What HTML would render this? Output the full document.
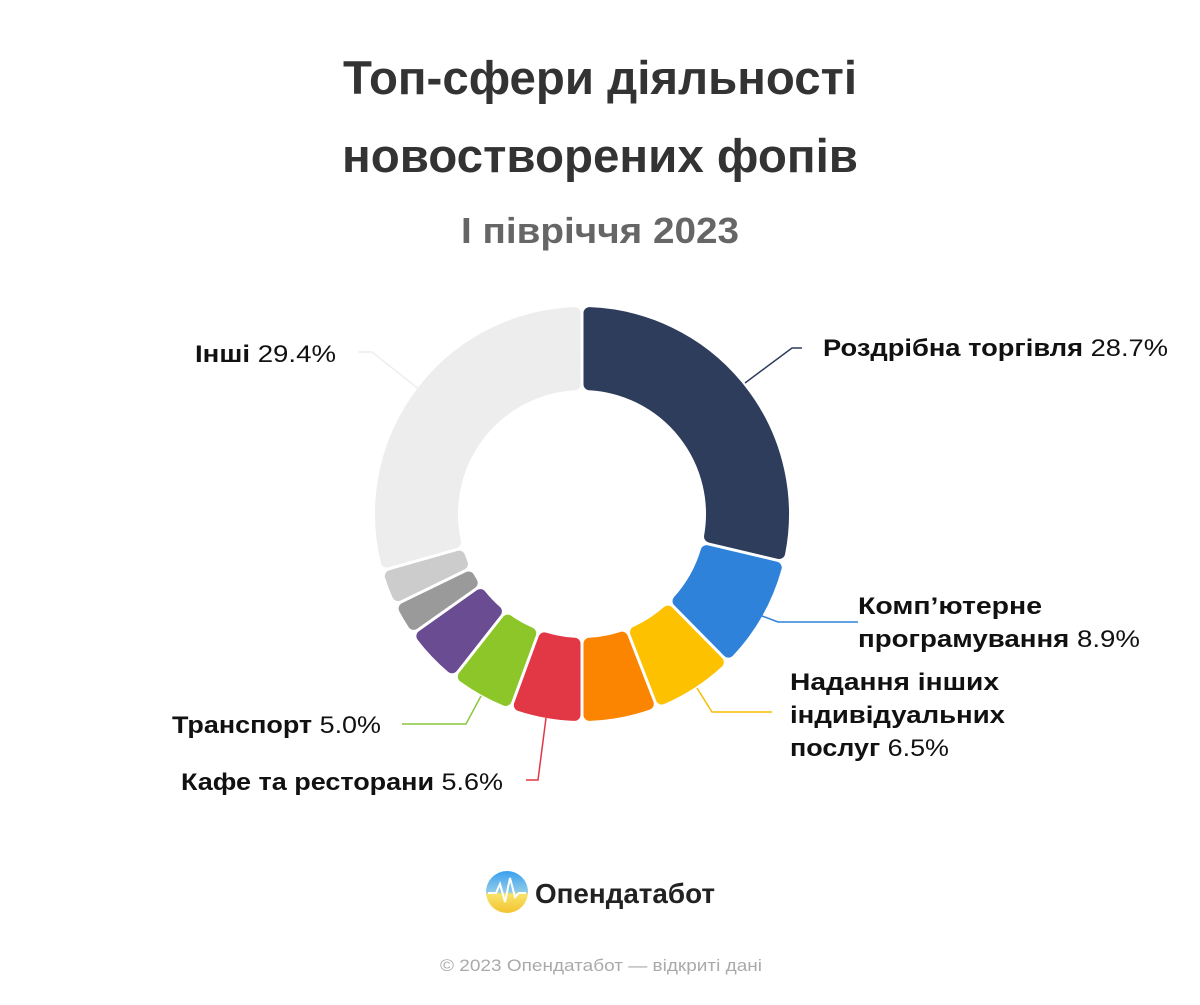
<!DOCTYPE html>
<html><head><meta charset="utf-8"><style>
body{margin:0;background:#fff;width:1200px;height:1000px;overflow:hidden;font-family:"Liberation Sans","DejaVu Sans",sans-serif}
</style></head><body>
<svg id="s" width="1200" height="1000" xmlns="http://www.w3.org/2000/svg">
<defs><linearGradient id="lg" x1="0" y1="0" x2="0" y2="1"><stop offset="0" stop-color="#3aa0f0"/><stop offset="0.5" stop-color="#8fcbe8"/><stop offset="0.55" stop-color="#f6e36a"/><stop offset="1" stop-color="#f4c430"/></linearGradient></defs>
<g font-family="Liberation Sans, DejaVu Sans, sans-serif" font-weight="bold" text-anchor="middle">
<text x="600" y="94" font-size="47" fill="#333" textLength="514" lengthAdjust="spacingAndGlyphs">Топ-сфери діяльності</text>
<text x="600" y="172" font-size="47" fill="#333" textLength="516" lengthAdjust="spacingAndGlyphs">новостворених фопів</text>
<text x="600" y="243" font-size="36" fill="#666" textLength="278" lengthAdjust="spacingAndGlyphs">І півріччя 2023</text>
</g>
<g id="pie"></g>
<g fill="none" stroke-width="1.5">
<polyline points="358,352 372,352 420,390" stroke="#eee"/>
<polyline points="745,383 792,348 802,348" stroke="#2e3d5c"/>
<polyline points="762,616 778,622 858,622" stroke="#2e82d9"/>
<polyline points="697,688 712,712 772,712" stroke="#f5bd00"/>
<polyline points="546,718 538,780 526,780" stroke="#e23744"/>
<polyline points="481,696 466,724 402,724" stroke="#8cc63e"/>
</g>
<g font-size="24" fill="#111" font-family="Liberation Sans, DejaVu Sans, sans-serif" lengthAdjust="spacingAndGlyphs">
<text x="195" y="362" textLength="141" lengthAdjust="spacingAndGlyphs"><tspan font-weight="bold">Інші</tspan> 29.4%</text>
<text x="823" y="356" textLength="345" lengthAdjust="spacingAndGlyphs"><tspan font-weight="bold">Роздрібна торгівля</tspan> 28.7%</text>
<text x="858" y="614" font-weight="bold" textLength="184" lengthAdjust="spacingAndGlyphs">Комп’ютерне</text>
<text x="858" y="647" textLength="282" lengthAdjust="spacingAndGlyphs"><tspan font-weight="bold">програмування</tspan> 8.9%</text>
<text x="790" y="690" font-weight="bold" textLength="209" lengthAdjust="spacingAndGlyphs">Надання інших</text>
<text x="790" y="723" font-weight="bold" textLength="215" lengthAdjust="spacingAndGlyphs">індивідуальних</text>
<text x="790" y="756" textLength="159" lengthAdjust="spacingAndGlyphs"><tspan font-weight="bold">послуг</tspan> 6.5%</text>
<text x="172" y="733" textLength="209" lengthAdjust="spacingAndGlyphs"><tspan font-weight="bold">Транспорт</tspan> 5.0%</text>
<text x="181" y="790" textLength="322" lengthAdjust="spacingAndGlyphs"><tspan font-weight="bold">Кафе та ресторани</tspan> 5.6%</text>
</g>
<circle cx="507" cy="892" r="21" fill="url(#lg)"/>
<polyline points="488,893 496,893 500,884 505,902 510,878 515,897 519,893 526,893" fill="none" stroke="#fff" stroke-width="2"/>
<text x="535" y="903" font-size="28" font-weight="bold" fill="#222" font-family="Liberation Sans, DejaVu Sans, sans-serif" textLength="180" lengthAdjust="spacingAndGlyphs">Опендатабот</text>
<text x="440" y="971" font-size="17" fill="#aaa" font-family="Liberation Sans, DejaVu Sans, sans-serif" textLength="322" lengthAdjust="spacingAndGlyphs">© 2023 Опендатабот — відкриті дані</text>
</svg>
<script>
var cx=582,cy=514,R=207,r=124,ins=6;
var d=[[28.7,"#2e3d5c"],[8.9,"#2e82d9"],[6.5,"#fdc100"],[5.9,"#fb8500"],[5.6,"#e23744"],[5.0,"#8cc628"],[4.6,"#6a4c93"],[2.6,"#9a9a9a"],[2.8,"#cccccc"],[29.4,"#ededed"]];
var g=document.getElementById("pie"),a=0,h="";
function p(rad,ang){return [cx+rad*Math.sin(ang),cy-rad*Math.cos(ang)];}
d.forEach(function(s){
 var a0=a/100*2*Math.PI,a1=(a+s[0])/100*2*Math.PI;a+=s[0];
 var Ro=R-ins,Ri=r+ins;
 var go=(ins+1.5)/Ro,gi=(ins+1.5)/Ri;
 var o0=p(Ro,a0+go),o1=p(Ro,a1-go),i1=p(Ri,a1-gi),i0=p(Ri,a0+gi);
 var lg=(a1-a0)>Math.PI?1:0;
 h+='<path d="M'+o0+' A'+Ro+','+Ro+' 0 '+lg+' 1 '+o1+' L'+i1+' A'+Ri+','+Ri+' 0 '+lg+' 0 '+i0+' Z" fill="'+s[1]+'" stroke="'+s[1]+'" stroke-width="'+(ins*2)+'" stroke-linejoin="round"/>';
});
g.innerHTML=h;
</script>
</body></html>
